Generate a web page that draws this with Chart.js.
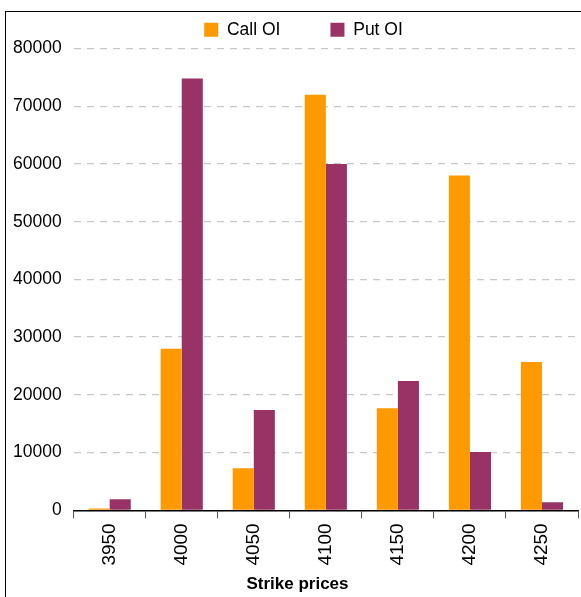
<!DOCTYPE html>
<html>
<head>
<meta charset="utf-8">
<script src="https://cdn.jsdelivr.net/npm/chart.js@4.4.0/dist/chart.umd.min.js"></script>
<style>
  body { margin: 0; background: #fff; }
  #frame { position: absolute; left: 5px; top: 11px; width: 600px; height: 600px; border: 1px solid #000; }
  #oiChart { position: absolute; left: 0; top: 0; }
</style>
</head>
<body>
<div id="frame"></div>
<canvas id="oiChart" width="581" height="597"></canvas>
<script>
// Open interest by strike
const strikes = ["3950", "4000", "4050", "4100", "4150", "4200", "4250"];
const callOI = [300, 28000, 7300, 72000, 17700, 58000, 25700];
const putOI = [1900, 74800, 17400, 60000, 22400, 10100, 1400];
const yTicks = [0, 10000, 20000, 30000, 40000, 50000, 60000, 70000, 80000];

Chart.defaults.font.family = "'Liberation Sans', Arial, sans-serif";
Chart.defaults.color = "#000";

// the original frame is wider than the picture, so legend and title sit a bit right of centre
const shiftBlocks = {
    id: "shiftBlocks",
    afterLayout(chart) {
        chart.legend.left += 14;
        chart.legend.right += 14;
        chart.titleBlock.left += 8;
        chart.titleBlock.right += 8;
    }
};

const ctx = document.getElementById("oiChart").getContext("2d");
new Chart(ctx, {
    type: "bar",
    data: {
        labels: strikes,
        datasets: [
            { label: "Call OI", data: callOI, backgroundColor: "#FF9900" },
            { label: "Put OI", data: putOI, backgroundColor: "#993366" }
        ]
    },
    options: {
        responsive: false,
        animation: false,
        layout: { padding: { left: 1, right: 3, top: 5, bottom: 0 } },
        datasets: { bar: { barPercentage: 1, categoryPercentage: 0.585 } },
        plugins: {
            legend: {
                position: "top",
                labels: {
                    boxWidth: 14,
                    boxHeight: 14,
                    padding: 16,
                    font: { size: 17.5 },
                    generateLabels: (chart) => {
                        const items = Chart.defaults.plugins.legend.labels.generateLabels(chart);
                        items[0].text += "       ";
                        return items;
                    }
                }
            },
            title: {
                display: true,
                position: "bottom",
                text: "Strike prices",
                color: "#000",
                font: { size: 17, weight: "bold" },
                padding: { top: 4, bottom: 2 }
            },
            tooltip: { enabled: false }
        },
        scales: {
            x: {
                grid: { drawOnChartArea: false, color: "#555", tickLength: 8 },
                border: { color: "#000", width: 1.5 },
                ticks: { minRotation: 90, maxRotation: 90, font: { size: 19 }, padding: 5 }
            },
            y: {
                min: 0,
                max: 80000,
                afterBuildTicks: (axis) => { axis.ticks = yTicks.map(v => ({ value: v })); },
                grid: { color: "#c8c8c8", drawTicks: false, lineWidth: 1.3 },
                border: { display: false, dash: [7, 6] },
                ticks: { font: { size: 17.5 }, padding: 12, callback: (v) => String(v) }
            }
        }
    },
    plugins: [shiftBlocks]
});
</script>
</body>
</html>
